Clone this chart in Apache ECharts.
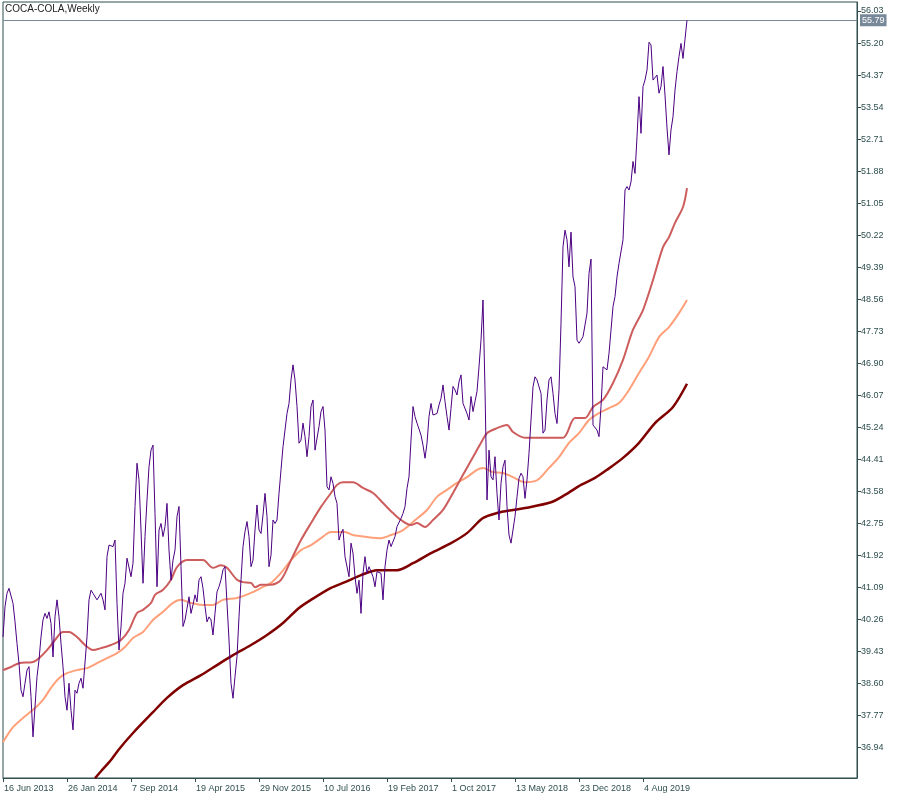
<!DOCTYPE html>
<html>
<head>
<meta charset="utf-8">
<script src="https://cdn.jsdelivr.net/npm/echarts@6/dist/echarts.min.js"></script>
<style>
html,body{margin:0;padding:0;background:#fff;}
#chart{width:900px;height:800px;}
</style>
</head>
<body>
<div id="chart"></div>
<script>
// ---- Data ----
const chartTitle = 'COCA-COLA,Weekly';
const startWeek = '2013-06-16';       // first weekly bar
const barCount = 343;                 // bars with data
const axisSlots = 428;                // visible slots incl. right-hand shift
const currentPrice = 55.79;

const yTickLabels = [36.94, 37.77, 38.60, 39.43, 40.26, 41.09, 41.92, 42.75, 43.58, 44.41, 45.24, 46.07,
  46.90, 47.73, 48.56, 49.39, 50.22, 51.05, 51.88, 52.71, 53.54, 54.37, 55.20, 56.03];

// weekly close
const closePrices = [
39.81,40.59,40.94,41.07,41.11,40.68,40.20,39.64,39.12,38.43,
38.26,38.61,38.95,39.04,38.26,37.22,38.00,38.78,39.21,39.81,
40.25,40.42,40.29,40.46,40.16,39.29,40.33,40.77,40.33,39.64,
39.04,38.26,37.91,38.61,37.91,37.40,38.43,38.35,38.61,38.74,
38.48,38.43,39.81,40.77,41.02,40.94,40.90,40.77,40.72,40.94,
40.77,40.51,41.89,42.19,42.23,42.15,42.32,40.68,39.47,40.07,
40.94,41.20,41.85,41.89,41.37,41.72,43.19,44.31,43.88,42.58,
41.20,42.41,43.36,44.22,44.65,44.78,43.01,41.11,42.58,42.75,
42.41,42.67,43.27,42.06,41.28,41.80,42.06,42.93,43.19,41.63,
40.08,40.25,40.55,40.85,40.42,40.64,40.90,40.72,41.29,41.37,
41.07,40.60,40.20,40.33,40.25,39.86,40.42,40.98,41.11,41.29,
41.55,41.63,40.68,39.73,38.61,38.22,38.78,39.30,40.33,41.29,
42.15,42.54,42.80,42.41,41.63,41.80,42.58,43.23,42.58,42.49,
42.97,43.53,42.93,41.63,41.93,42.84,42.75,42.84,43.53,44.14,
44.74,45.17,45.60,45.86,46.47,46.86,46.47,45.78,44.83,44.91,
45.35,45.00,44.48,45.00,45.78,45.95,44.65,44.65,45.26,45.65,
45.78,45.17,43.70,43.62,43.96,43.79,43.45,43.27,42.32,42.49,
42.60,41.89,41.93,41.37,42.24,41.98,41.37,40.94,41.28,40.42,
41.46,41.89,41.46,41.63,41.63,41.37,41.11,41.50,41.54,41.46,
40.77,41.63,42.06,42.32,42.15,42.15,42.41,42.67,42.71,42.88,
43.01,43.19,43.66,43.96,44.91,45.78,45.52,45.35,45.30,45.04,
44.78,44.44,44.83,45.52,45.86,45.56,45.60,45.60,45.82,45.99,
46.34,45.91,45.52,45.17,45.73,46.30,46.21,46.08,46.42,46.60,
45.86,45.91,45.60,45.43,46.04,45.65,45.91,46.17,46.81,47.50,
48.54,46.21,43.36,44.65,43.96,43.88,44.48,43.53,42.84,43.79,
44.22,44.39,43.19,42.45,42.24,42.28,42.93,43.44,43.92,44.05,
43.96,43.40,43.88,44.57,45.43,46.29,46.55,46.47,46.47,46.12,
45.09,45.17,45.95,46.47,46.55,46.12,45.60,45.34,46.21,47.94,
49.92,50.35,50.10,49.40,50.30,49.14,48.89,47.50,47.42,47.50,
47.59,47.59,48.20,49.23,49.60,45.30,45.26,45.17,45.00,45.78,
46.81,46.81,46.73,47.16,47.76,48.37,48.63,49.14,49.49,49.49,
50.10,51.39,51.48,51.39,51.60,52.13,51.82,52.77,53.81,52.86,
54.07,54.24,54.50,55.22,55.15,54.24,54.20,54.37,53.90,54.07,
54.59,53.85,53.00,52.30,52.95,53.29,53.98,54.46,54.85,55.19,
54.80,55.30,55.79
];

// moving averages read at selected bars: [bar index, value]
const maFast = [[0,38.95],[4,39.03],[8,39.13],[15,39.16],[18,39.26],[22,39.47],[26,39.73],[30,39.94],[33,39.94],
  [37,39.81],[41,39.60],[45,39.47],[49,39.52],[54,39.60],[59,39.73],[63,39.99],[67,40.43],[70,40.51],[74,40.69],
  [76,40.90],[80,41.03],[84,41.29],[87,41.62],[92,41.80],[100,41.80],[105,41.60],[109,41.67],[112,41.60],
  [117,41.29],[120,41.23],[124,41.21],[126,41.10],[129,41.16],[134,41.16],[139,41.29],[144,41.80],[149,42.32],
  [154,42.76],[159,43.18],[164,43.54],[167,43.75],[170,43.82],[175,43.82],[180,43.67],[185,43.54],[190,43.28],
  [195,43.02],[199,42.84],[204,42.71],[207,42.76],[211,42.66],[215,42.84],[220,43.10],[225,43.54],[230,44.01],
  [235,44.47],[239,44.84],[242,45.09],[247,45.22],[252,45.30],[255,45.12],[261,44.97],[266,44.97],[271,44.97],
  [280,44.97],[286,45.48],[291,45.48],[295,45.77],[300,45.95],[305,46.39],[310,46.99],[315,47.77],[320,48.28],
  [325,49.06],[330,49.91],[333,50.17],[336,50.54],[340,50.95],[342,51.44]];

const maMid = [[0,37.08],[5,37.47],[10,37.71],[15,37.92],[20,38.18],[24,38.49],[28,38.74],[32,38.87],[37,38.95],
  [42,39.00],[47,39.13],[52,39.26],[57,39.39],[61,39.55],[65,39.78],[70,39.94],[75,40.25],[80,40.46],[85,40.69],
  [89,40.77],[94,40.69],[100,40.64],[105,40.64],[110,40.77],[117,40.82],[124,40.95],[129,41.08],[134,41.21],
  [139,41.47],[144,41.80],[149,42.06],[154,42.19],[159,42.37],[164,42.53],[171,42.53],[175,42.45],[182,42.40],
  [189,42.37],[194,42.45],[200,42.58],[205,42.79],[212,43.10],[217,43.44],[222,43.62],[227,43.80],[232,43.95],
  [237,44.14],[240,44.19],[245,44.08],[250,44.06],[255,43.95],[261,43.82],[267,43.87],[273,44.19],[278,44.47],
  [283,44.84],[288,45.09],[293,45.43],[298,45.61],[303,45.74],[308,45.87],[313,46.21],[318,46.65],[323,47.07],
  [328,47.58],[333,47.84],[338,48.20],[342,48.54]];

const maSlow = [[46,36.15],[49,36.33],[54,36.62],[58,36.90],[65,37.32],[75,37.86],[82,38.23],[90,38.56],
  [99,38.82],[107,39.08],[115,39.34],[124,39.60],[132,39.86],[140,40.17],[148,40.56],[154,40.77],[164,41.08],
  [171,41.23],[179,41.41],[187,41.54],[197,41.54],[205,41.72],[214,41.98],[224,42.24],[232,42.50],[240,42.89],
  [247,43.02],[255,43.10],[261,43.15],[274,43.30],[281,43.49],[289,43.75],[296,43.93],[302,44.14],[310,44.45],
  [318,44.84],[326,45.35],[335,45.77],[342,46.37]];

// ---- weekly category labels ----
const monthNames = ['Jan','Feb','Mar','Apr','May','Jun','Jul','Aug','Sep','Oct','Nov','Dec'];
const categories = [];
(function () {
  const t0 = Date.parse(startWeek + 'T00:00:00Z');
  for (let k = 0; k < axisSlots; k++) {
    const d = new Date(t0 + k * 7 * 86400000);
    categories.push(d.getUTCDate() + ' ' + monthNames[d.getUTCMonth()] + ' ' + d.getUTCFullYear());
  }
})();

const showTick = (idx) => idx % 32 === 0 && idx < barCount;

const FONT = 'Liberation Sans, Arial, sans-serif';
const AXIS_COLOR = '#2F4F4F';

const chart = echarts.init(document.getElementById('chart'), null, {renderer: 'canvas'});
chart.setOption({
  animation: false,
  backgroundColor: '#ffffff',
  title: {
    text: chartTitle, left: 3, top: 2, padding: [2, 2],
    textStyle: {fontSize: 10, fontWeight: 'normal', color: '#222', fontFamily: FONT}
  },
  grid: {left: 3, right: 43, top: 2, bottom: 22, show: true, borderColor: AXIS_COLOR, borderWidth: 1, containLabel: false},
  xAxis: {
    type: 'category', data: categories, boundaryGap: false,
    axisLine: {lineStyle: {color: AXIS_COLOR}},
    axisTick: {show: true, interval: showTick, length: 4, lineStyle: {color: AXIS_COLOR}},
    axisLabel: {interval: showTick, align: 'left', margin: 6, fontSize: 9, color: AXIS_COLOR, fontFamily: FONT, padding: [0,0,0,1]},
    splitLine: {show: false}
  },
  yAxis: {
    type: 'value', position: 'right', min: 36.154, max: 56.263, scale: true,
    axisLine: {show: true, lineStyle: {color: AXIS_COLOR}},
    axisTick: {show: true, length: 4, customValues: yTickLabels, lineStyle: {color: AXIS_COLOR}},
    axisLabel: {customValues: yTickLabels, margin: 4, fontSize: 9, color: AXIS_COLOR, fontFamily: FONT,
      formatter: (v) => v.toFixed(2)},
    splitLine: {show: false}
  },
  series: [
    {
      name: 'MA slow', type: 'line', data: maSlow, showSymbol: false, symbol: 'none', smooth: 0.3,
      lineStyle: {color: '#800000', width: 2.5}, z: 2
    },
    {
      name: 'MA mid', type: 'line', data: maMid, showSymbol: false, symbol: 'none', smooth: 0.3,
      lineStyle: {color: '#FFA07A', width: 2}, z: 3
    },
    {
      name: 'MA fast', type: 'line', data: maFast, showSymbol: false, symbol: 'none', smooth: 0.3,
      lineStyle: {color: '#CD5C5C', width: 2}, z: 4
    },
    {
      name: 'Close', type: 'line', data: closePrices, showSymbol: false, symbol: 'none',
      lineStyle: {color: '#4B0082', width: 1}, z: 5,
      markLine: {
        silent: true, symbol: 'none', animation: false,
        lineStyle: {color: '#778899', width: 1, type: 'solid'},
        label: {show: true, position: 'end', distance: 3, formatter: currentPrice.toFixed(2),
          backgroundColor: '#778899', color: '#ffffff', fontSize: 9, fontFamily: FONT, padding: [2, 2, 1, 2]},
        data: [{yAxis: currentPrice}]
      }
    }
  ]
});
</script>
</body>
</html>
